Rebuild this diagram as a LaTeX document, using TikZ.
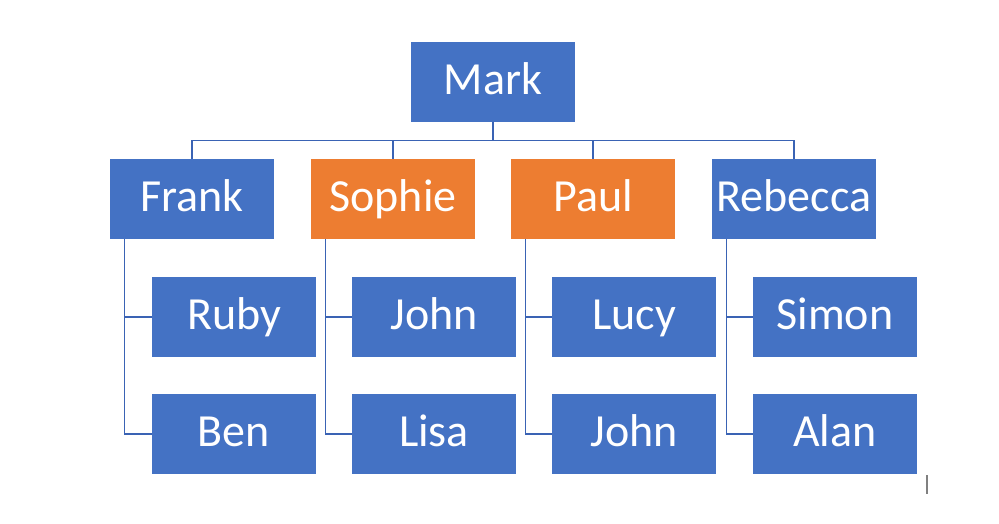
\documentclass[tikz,border=0pt]{standalone}
\usepackage{fontspec}
\setmainfont{Carlito}
\definecolor{boxblue}{HTML}{4472C4}
\definecolor{boxorange}{HTML}{ED7D31}
\definecolor{linkblue}{HTML}{3A63B4}
\begin{document}
\begin{tikzpicture}[x=1pt,y=-1pt,
  person/.style={fill=boxblue,draw=none,minimum width=164pt,minimum height=80pt,inner sep=0pt,text height=36pt,text depth=11pt,text=white,font=\fontsize{46}{50}\selectfont},
  highlight/.style={person,fill=boxorange},
  link/.style={draw=linkblue,line width=1.3pt}]
\useasboundingbox (0,0) rectangle (999,523);
\node[person] (mark) at (493,81.5) {Mark};
\node[person] (frank) at (192,199) {Frank};
\node[highlight] (sophie) at (393,199) {Sophie};
\node[highlight] (paul) at (593,199) {Paul};
\node[person] (rebecca) at (794,199) {Rebecca};
\node[person] (ruby) at (234,317) {Ruby};
\node[person] (ben) at (234,434) {Ben};
\node[person] (john1) at (434,317) {John};
\node[person] (lisa) at (434,434) {Lisa};
\node[person] (lucy) at (634,317) {Lucy};
\node[person] (john2) at (634,434) {John};
\node[person] (simon) at (835,317) {Simon};
\node[person] (alan) at (835,434) {Alan};
\foreach \p in {frank,sophie,paul,rebecca}
  \draw[link] (mark.south) -- ++(0,18.5) -| (\p.north);
\foreach \p/\a/\b in {frank/ruby/ben,sophie/john1/lisa,paul/lucy/john2,rebecca/simon/alan}{
  \draw[link] ([xshift=15pt]\p.south west) |- (\a.west);
  \draw[link] ([xshift=15pt]\p.south west) |- (\b.west);
}
\coordinate (cursorTop) at (927,475);
\coordinate (cursorBot) at (927,494);
\draw[gray,line width=1.5pt] (cursorTop) -- (cursorBot);
\end{tikzpicture}
\end{document}
